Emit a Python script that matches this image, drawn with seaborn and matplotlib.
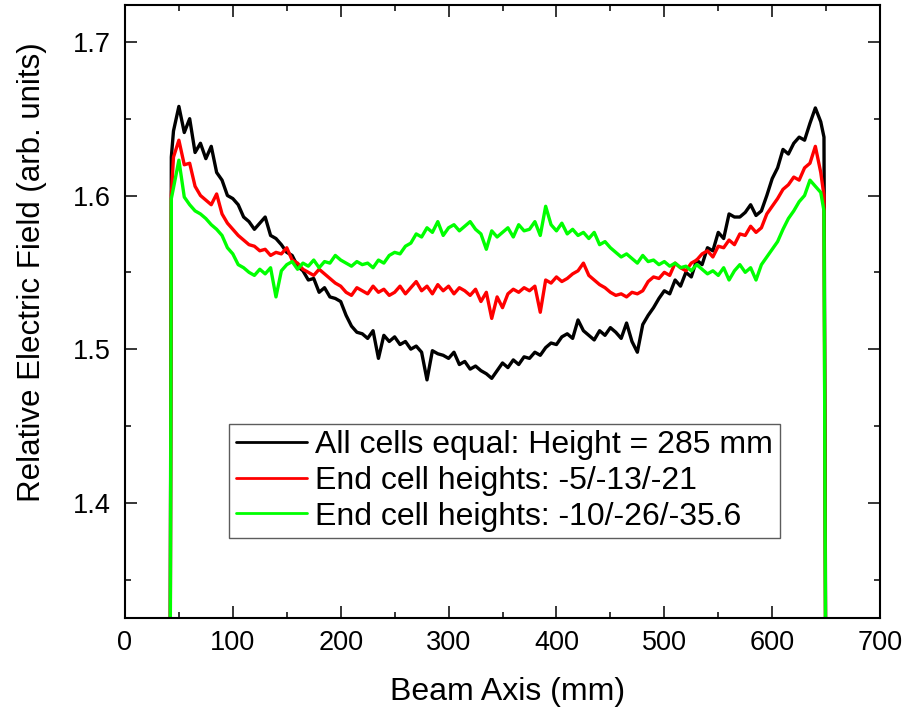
import numpy as np
import pandas as pd
import matplotlib
matplotlib.use('Agg')
import matplotlib.pyplot as plt
from matplotlib.ticker import MultipleLocator
import seaborn as sns

# beam axis sampling positions (mm)
beam_axis = [41, 43] + list(range(45, 650, 5)) + [648, 651]

# all cells equal: height = 285 mm
field_equal = [1.0, 1.625,
               1.642, 1.658, 1.641, 1.650, 1.628, 1.634, 1.624, 1.632, 1.615, 1.610,
               1.600, 1.598, 1.594, 1.586, 1.583, 1.578, 1.582, 1.586, 1.574, 1.572,
               1.568, 1.563, 1.561, 1.554, 1.551, 1.545, 1.546, 1.537, 1.540, 1.534,
               1.533, 1.531, 1.522, 1.515, 1.511, 1.510, 1.507, 1.512, 1.494, 1.509,
               1.505, 1.508, 1.503, 1.505, 1.500, 1.502, 1.498, 1.480, 1.499, 1.497,
               1.496, 1.494, 1.498, 1.490, 1.492, 1.487, 1.489, 1.486, 1.484, 1.481,
               1.486, 1.491, 1.488, 1.493, 1.490, 1.495, 1.494, 1.498, 1.496, 1.501,
               1.504, 1.503, 1.508, 1.510, 1.507, 1.519, 1.512, 1.509, 1.506, 1.512,
               1.509, 1.514, 1.511, 1.507, 1.517, 1.505, 1.498, 1.516, 1.522, 1.527,
               1.533, 1.538, 1.536, 1.545, 1.541, 1.550, 1.547, 1.558, 1.555, 1.566,
               1.564, 1.576, 1.572, 1.588, 1.586, 1.586, 1.589, 1.594, 1.587, 1.590,
               1.600, 1.611, 1.618, 1.630, 1.627, 1.634, 1.638, 1.636, 1.647, 1.657,
               1.648,
               1.638, 1.0]

# end cell heights -5/-13/-21
field_mod1 = [1.0, 1.600,
              1.625, 1.636, 1.620, 1.621, 1.606, 1.600, 1.597, 1.594, 1.601, 1.588,
              1.582, 1.578, 1.574, 1.571, 1.568, 1.567, 1.564, 1.565, 1.561, 1.563,
              1.562, 1.566, 1.558, 1.556, 1.552, 1.550, 1.548, 1.552, 1.549, 1.546,
              1.543, 1.541, 1.537, 1.535, 1.540, 1.538, 1.536, 1.541, 1.537, 1.539,
              1.535, 1.537, 1.541, 1.536, 1.540, 1.544, 1.538, 1.541, 1.536, 1.542,
              1.538, 1.541, 1.536, 1.540, 1.538, 1.535, 1.539, 1.531, 1.537, 1.520,
              1.534, 1.527, 1.536, 1.539, 1.537, 1.540, 1.538, 1.541, 1.524, 1.545,
              1.543, 1.547, 1.544, 1.546, 1.549, 1.551, 1.556, 1.548, 1.545, 1.542,
              1.540, 1.537, 1.535, 1.536, 1.534, 1.537, 1.536, 1.538, 1.544, 1.547,
              1.546, 1.550, 1.548, 1.556, 1.553, 1.551, 1.556, 1.558, 1.562, 1.564,
              1.560, 1.567, 1.566, 1.571, 1.568, 1.575, 1.574, 1.580, 1.576, 1.579,
              1.588, 1.593, 1.598, 1.604, 1.607, 1.612, 1.610, 1.618, 1.621, 1.632,
              1.615,
              1.600, 1.0]

# end cell heights -10/-26/-35.6
field_mod2 = [1.0, 1.598,
              1.605, 1.623, 1.599, 1.594, 1.590, 1.588, 1.585, 1.581, 1.578, 1.574,
              1.566, 1.562, 1.555, 1.553, 1.550, 1.548, 1.552, 1.549, 1.553, 1.534,
              1.551, 1.555, 1.557, 1.552, 1.556, 1.554, 1.558, 1.553, 1.557, 1.556,
              1.561, 1.558, 1.556, 1.554, 1.557, 1.555, 1.556, 1.553, 1.558, 1.556,
              1.561, 1.563, 1.562, 1.567, 1.569, 1.575, 1.573, 1.579, 1.576, 1.583,
              1.574, 1.579, 1.581, 1.577, 1.580, 1.583, 1.578, 1.575, 1.565, 1.577,
              1.573, 1.576, 1.579, 1.573, 1.581, 1.577, 1.578, 1.583, 1.574, 1.593,
              1.581, 1.577, 1.582, 1.575, 1.578, 1.574, 1.576, 1.572, 1.576, 1.568,
              1.570, 1.566, 1.563, 1.560, 1.562, 1.559, 1.556, 1.561, 1.557, 1.558,
              1.555, 1.557, 1.554, 1.556, 1.553, 1.554, 1.551, 1.555, 1.552, 1.549,
              1.551, 1.548, 1.553, 1.545, 1.551, 1.555, 1.550, 1.553, 1.545, 1.555,
              1.560, 1.565, 1.570, 1.578, 1.585, 1.590, 1.596, 1.600, 1.610, 1.606,
              1.602,
              1.590, 1.0]

labels = ['All cells equal: Height = 285 mm',
          'End cell heights: -5/-13/-21',
          'End cell heights: -10/-26/-35.6']
colors = ['#000000', '#ff0000', '#00ff00']

df = pd.DataFrame({'Beam Axis': beam_axis,
                   labels[0]: field_equal,
                   labels[1]: field_mod1,
                   labels[2]: field_mod2})
long_df = df.melt(id_vars='Beam Axis', var_name='Series', value_name='Field')

sns.set_style('ticks')
plt.rcParams['font.family'] = ['Liberation Sans', 'DejaVu Sans']
plt.rcParams['text.color'] = 'black'
plt.rcParams['axes.labelcolor'] = 'black'
plt.rcParams['xtick.color'] = 'black'
plt.rcParams['ytick.color'] = 'black'

fig = plt.figure(figsize=(9.12, 7.13), dpi=100)
ax = fig.add_axes([0.137, 0.1332, 0.828, 0.8598])

sns.lineplot(data=long_df, x='Beam Axis', y='Field', hue='Series',
             hue_order=labels, palette=colors, linewidth=2.4,
             estimator=None, sort=False, ax=ax)

ax.set_xlim(0, 700)
ax.set_ylim(1.325, 1.724)
ax.xaxis.set_major_locator(MultipleLocator(100))
ax.xaxis.set_minor_locator(MultipleLocator(50))
ax.yaxis.set_major_locator(MultipleLocator(0.1))
ax.yaxis.set_minor_locator(MultipleLocator(0.05))
ax.tick_params(which='both', direction='in', top=True, right=True,
               width=1.1, color='black', labelcolor='black', labelsize=19.5)
ax.tick_params(which='major', length=8.5)
ax.tick_params(which='minor', length=4.3)
ax.tick_params(axis='x', pad=8.5)
ax.tick_params(axis='y', pad=10)
for sp in ax.spines.values():
    sp.set_linewidth(1.5)
    sp.set_color('black')

ax.set_xlabel('Beam Axis (mm)', fontsize=23, labelpad=15)
ax.set_ylabel('Relative Electric Field (arb. units)', fontsize=22.5, labelpad=19)
# labels sit a little off-centre in the original
ax.xaxis.label.set_x(0.507)
ax.yaxis.label.set_y(0.564)

leg = ax.legend(loc='lower left', bbox_to_anchor=(0.138, 0.1305),
                borderaxespad=0, fontsize=23, frameon=True, fancybox=False,
                handlelength=2.25, handletextpad=0.25, labelspacing=0.18,
                borderpad=0.2)
leg.get_frame().set_edgecolor('#333333')
leg.get_frame().set_linewidth(1.0)
for line in leg.get_lines():
    line.set_linewidth(2.0)

fig.savefig('out.png', dpi=100)
